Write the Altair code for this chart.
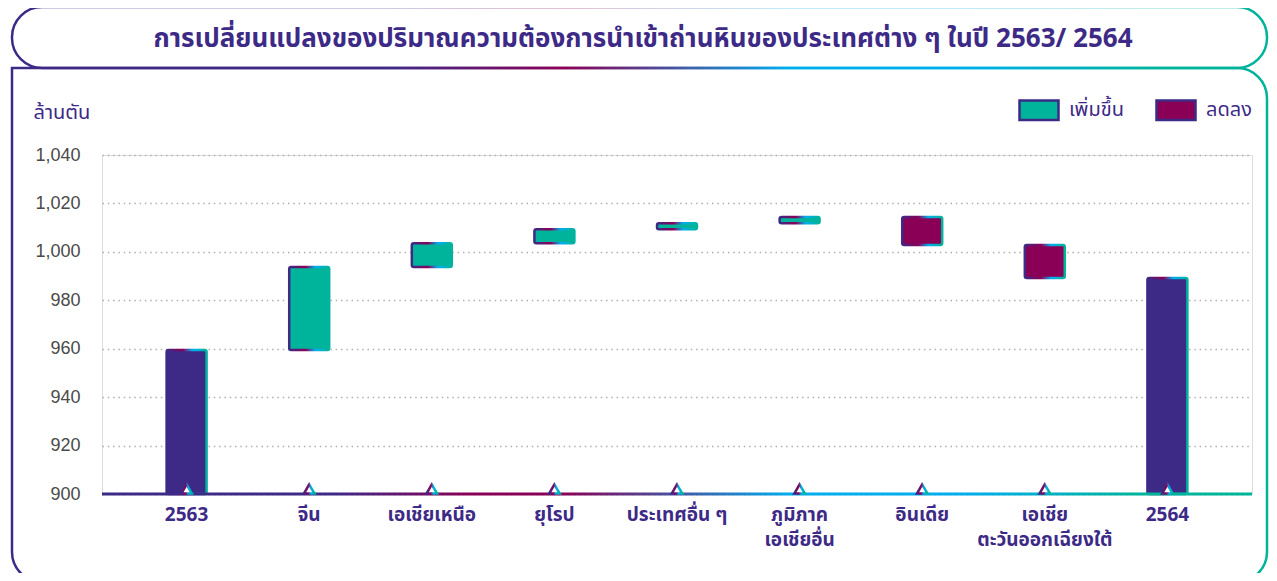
import altair as alt
import pandas as pd

# ---------------- data ----------------
categories = ["2563", "จีน", "เอเชียเหนือ", "ยุโรป", "ประเทศอื่น ๆ",
              "ภูมิภาค|เอเชียอื่น", "อินเดีย", "เอเชีย|ตะวันออกเฉียงใต้", "2564"]
bar_start = [900, 959.5, 993.7, 1003.6, 1009.3, 1011.8, 1014.4, 1002.8, 900]
bar_end = [959.5, 993.7, 1003.6, 1009.3, 1011.8, 1014.4, 1002.8, 989.2, 989.2]
bar_kind = ["total", "เพิ่มขึ้น", "เพิ่มขึ้น", "เพิ่มขึ้น", "เพิ่มขึ้น", "เพิ่มขึ้น",
            "ลดลง", "ลดลง", "total"]
legend_labels = ["เพิ่มขึ้น", "ลดลง"]
y_ticks = [900, 920, 940, 960, 980, 1000, 1020, 1040]
title_text = "การเปลี่ยนแปลงของปริมาณความต้องการนำเข้าถ่านหินของประเทศต่าง ๆ ในปี 2563/ 2564"
y_unit = "ล้านตัน"

# ---------------- style ----------------
PURPLE = "#3d2a87"
MAGENTA = "#8a0056"
CYAN = "#00aeef"
TEAL = "#00b39b"
GRID = "#b0b0b0"
FONT = "Noto Sans Thai, Noto Sans, DejaVu Sans, sans-serif"
NUM_FONT = "Liberation Sans, Arial, sans-serif"

W, H = 1150, 339


def grad(stops):
    return alt.LinearGradient(
        gradient="linear", x1=0, x2=1, y1=0, y2=0,
        stops=[alt.GradientStop(color=c, offset=o) for o, c in stops])


bar_grad = grad([(0, PURPLE), (0.4, MAGENTA), (0.65, CYAN), (1, TEAL)])
frame_grad = grad([(0, PURPLE), (0.3, PURPLE), (0.44, MAGENTA), (0.62, CYAN),
                   (0.75, CYAN), (0.92, TEAL), (1, TEAL)])
base_grad = grad([(0, PURPLE), (0.2, PURPLE), (0.32, MAGENTA), (0.4, MAGENTA),
                  (0.6, CYAN), (0.75, CYAN), (0.9, TEAL), (1, TEAL)])

df = pd.DataFrame({"cat": categories, "start": bar_start, "end": bar_end,
                   "kind": bar_kind})

x_enc = alt.X("cat:N", sort=categories,
              scale=alt.Scale(paddingInner=0.674, paddingOuter=0.527),
              axis=alt.Axis(title=None, labelAngle=0, domain=False, ticks=False,
                            grid=False, labelFont=FONT, labelFontSize=19,
                            labelFontWeight="bold", labelColor=PURPLE,
                            labelPadding=11, labelBaseline="top",
                            labelLineHeight=25,
                            labelExpr="split(datum.label, '|')"))

y_scale = alt.Scale(domain=[900, 1040], nice=False, zero=False)
y_axis = alt.Axis(values=y_ticks, format=",d", domain=False, ticks=False,
                  labelFont=NUM_FONT, labelFontSize=18, labelColor="#4a4a4a",
                  labelPadding=22, grid=True, gridColor=GRID, gridWidth=1.5,
                  gridDash=[1.5, 3.8], title=y_unit, titleAngle=0,
                  titleX=-69, titleY=-43, titleAlign="left",
                  titleBaseline="middle", titleFont=FONT, titleFontSize=20,
                  titleFontWeight="normal", titleColor=PURPLE)

base = alt.Chart(df)

# frame decorations
frame_top = alt.Chart(pd.DataFrame({"a": [0]})).mark_rect(
    fillOpacity=0, stroke=frame_grad, strokeWidth=2.5, cornerRadius=30
).encode(x=alt.value(-90), x2=alt.value(1165), y=alt.value(-148), y2=alt.value(-87))

frame_low = alt.Chart(pd.DataFrame({"a": [0]})).mark_rect(
    fillOpacity=0, stroke=frame_grad, strokeWidth=2.5, cornerRadius=30,
    cornerRadiusTopLeft=0
).encode(x=alt.value(-90), x2=alt.value(1165), y=alt.value(-87), y2=alt.value(427))

totals = base.transform_filter(alt.datum.kind == "total").mark_bar(
    fill=PURPLE, stroke=bar_grad, strokeWidth=2.5, cornerRadius=2
).encode(x=x_enc, y=alt.Y("start:Q", scale=y_scale, axis=y_axis), y2="end:Q")

changes = base.transform_filter(alt.datum.kind != "total").mark_bar(
    stroke=bar_grad, strokeWidth=2.5, cornerRadius=2, opacity=1
).encode(
    x=x_enc, y=alt.Y("start:Q", scale=y_scale, axis=y_axis), y2="end:Q",
    color=alt.Color("kind:N", scale=alt.Scale(domain=legend_labels, range=[TEAL, MAGENTA]),
                    legend=alt.Legend(title=None, orient="none", legendX=916, legendY=-66,
                                      direction="horizontal",
                                      symbolType="M-1,-0.5H1V0.5H-1Z", symbolSize=1521,
                                      symbolStrokeColor=PURPLE, symbolStrokeWidth=2.5,
                                      symbolOpacity=1,
                                      labelFont=FONT, labelFontSize=20, labelColor=PURPLE,
                                      labelOffset=9, columnPadding=27, padding=0))
)

baseline = alt.Chart(pd.DataFrame({"v": [900]})).mark_rect(
    fill=base_grad, yOffset=-1.5, y2Offset=1.5
).encode(x=alt.value(0), x2=alt.value(W), y=alt.Y("v:Q", scale=y_scale), y2="v:Q")

markers = base.mark_point(
    shape="triangle-up", filled=True, fill="white", stroke=bar_grad,
    strokeWidth=2.5, size=110, opacity=1, yOffset=-5
).encode(x=x_enc, y=alt.datum(900))

title = alt.Chart(pd.DataFrame({"a": [0]})).mark_text(
    text=title_text, font=FONT, fontSize=26, fontWeight="bold", color=PURPLE,
    align="center", baseline="middle"
).encode(x=alt.value(541), y=alt.value(-116))

chart = alt.layer(frame_top, frame_low, totals, changes, baseline, markers, title).properties(
    width=W, height=H,
    autosize=alt.AutoSizeParams(type="none"),
    padding={"left": 94, "top": 147, "right": 17, "bottom": 79},
).configure_view(strokeWidth=0).configure(background="white")

chart.save("out.html", embed_options={"renderer": "svg", "actions": False})
